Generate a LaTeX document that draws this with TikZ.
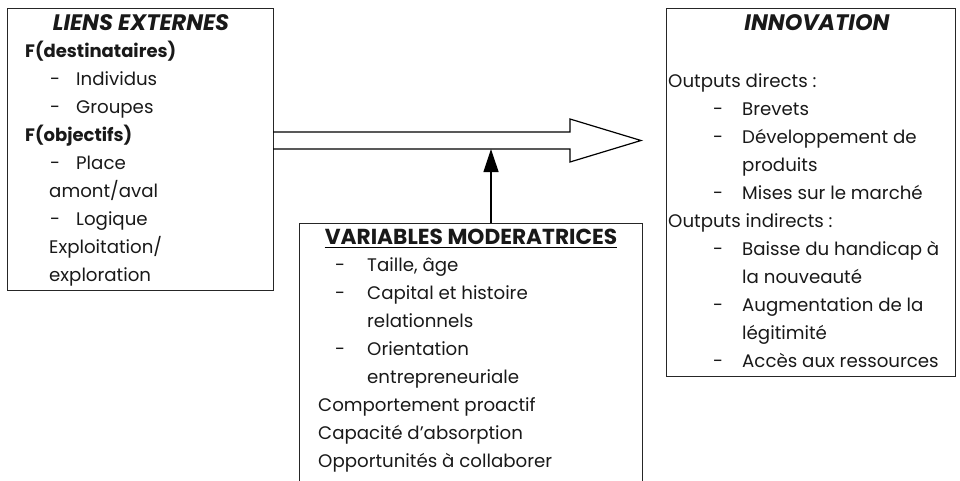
\documentclass[tikz,border=0pt]{standalone}
\usepackage{fontspec}
\setmainfont{Poppins}
\usetikzlibrary{arrows.meta}
\newcommand\tline[4]{\node[txt] (#1) at (#2,#3) {#4};}
\begin{document}
\begin{tikzpicture}[x=1pt,y=-1pt,
  font=\fontsize{18.2}{24}\selectfont,
  box/.style={draw=black!85,line width=1.2pt,inner sep=0pt,anchor=north west},
  txt/.style={anchor=base west,inner sep=0pt,text=black!90},
  hdr/.style={anchor=base,inner sep=0pt,text=black!90,font=\fontsize{22.4}{26}\selectfont\bfseries\itshape},
  subhdr/.style={font=\fontsize{18}{24}\selectfont\bfseries},
  conn/.style={line width=1.2pt,draw=black}]
\useasboundingbox (0,0) rectangle (960,480);
% boxes
\node[box,minimum width=266pt,minimum height=282pt] (left) at (7,8) {};
\node[box,minimum width=343pt,minimum height=262pt] (mid) at (299,223) {};
\node[box,minimum width=289pt,minimum height=368pt] (right) at (666,8) {};
% big hollow arrow
\coordinate (atip) at (641,140.5);
\draw[conn,line join=miter] (273,132) -- (570,132) -- (570,119) -- (atip) -- (570,162) -- (570,149) -- (273,149);
% vertical arrow
\coordinate (vtop) at (491,149);
\draw[conn,-{Triangle[width=15pt,length=23pt]}] (mid.north -| vtop) -- (vtop);
% left box text
\node[hdr] (lh) at (141,30) {LIENS EXTERNES};
\node[txt,subhdr] (l1) at (25,57) {F(destinataires)};
\tline{l2d}{50}{85}{-}\tline{l2}{76}{85}{Individus}
\tline{l3d}{50}{113}{-}\tline{l3}{76}{113}{Groupes}
\node[txt,subhdr] (l4) at (25,141) {F(objectifs)};
\tline{l5d}{50}{169}{-}\tline{l5}{76}{169}{Place}
\tline{l6}{49}{197}{amont/aval}
\tline{l7d}{50}{225}{-}\tline{l7}{76}{225}{Logique}
\tline{l8}{49}{253}{Exploitation/}
\tline{l9}{49}{281}{exploration}
% middle box text
\node[hdr,font=\fontsize{21.7}{26}\selectfont\bfseries] (mh) at (471,244) {VARIABLES MODERATRICES};
\draw[line width=1.6pt] ([yshift=-3.5pt]mh.base west) -- ([yshift=-3.5pt]mh.base east);
\tline{m1d}{335}{271}{-}\tline{m1}{367}{271}{Taille, âge}
\tline{m2d}{335}{299}{-}\tline{m2}{367}{299}{Capital et histoire}
\tline{m3}{367}{327}{relationnels}
\tline{m4d}{335}{355}{-}\tline{m4}{367}{355}{Orientation}
\tline{m5}{367}{383}{entrepreneuriale}
\tline{m6}{318}{411}{Comportement proactif}
\tline{m7}{318}{439}{Capacité d’absorption}
\tline{m8}{318}{467}{Opportunités à collaborer}
% right box text
\node[hdr] (rh) at (817,30) {INNOVATION};
\tline{r1}{668}{87}{Outputs directs :}
\tline{r2d}{713}{115}{-}\tline{r2}{742}{115}{Brevets}
\tline{r3d}{713}{143}{-}\tline{r3}{742}{143}{Développement de}
\tline{r4}{742}{171}{produits}
\tline{r5d}{713}{199}{-}\tline{r5}{742}{199}{Mises sur le marché}
\tline{r6}{668}{227}{Outputs indirects :}
\tline{r7d}{713}{255}{-}\tline{r7}{742}{255}{Baisse du handicap à}
\tline{r8}{742}{283}{la nouveauté}
\tline{r9d}{713}{311}{-}\tline{r9}{742}{311}{Augmentation de la}
\tline{r10}{742}{339}{légitimité}
\tline{r11d}{713}{367}{-}\tline{r11}{742}{367}{Accès aux ressources}
\end{tikzpicture}
\end{document}
